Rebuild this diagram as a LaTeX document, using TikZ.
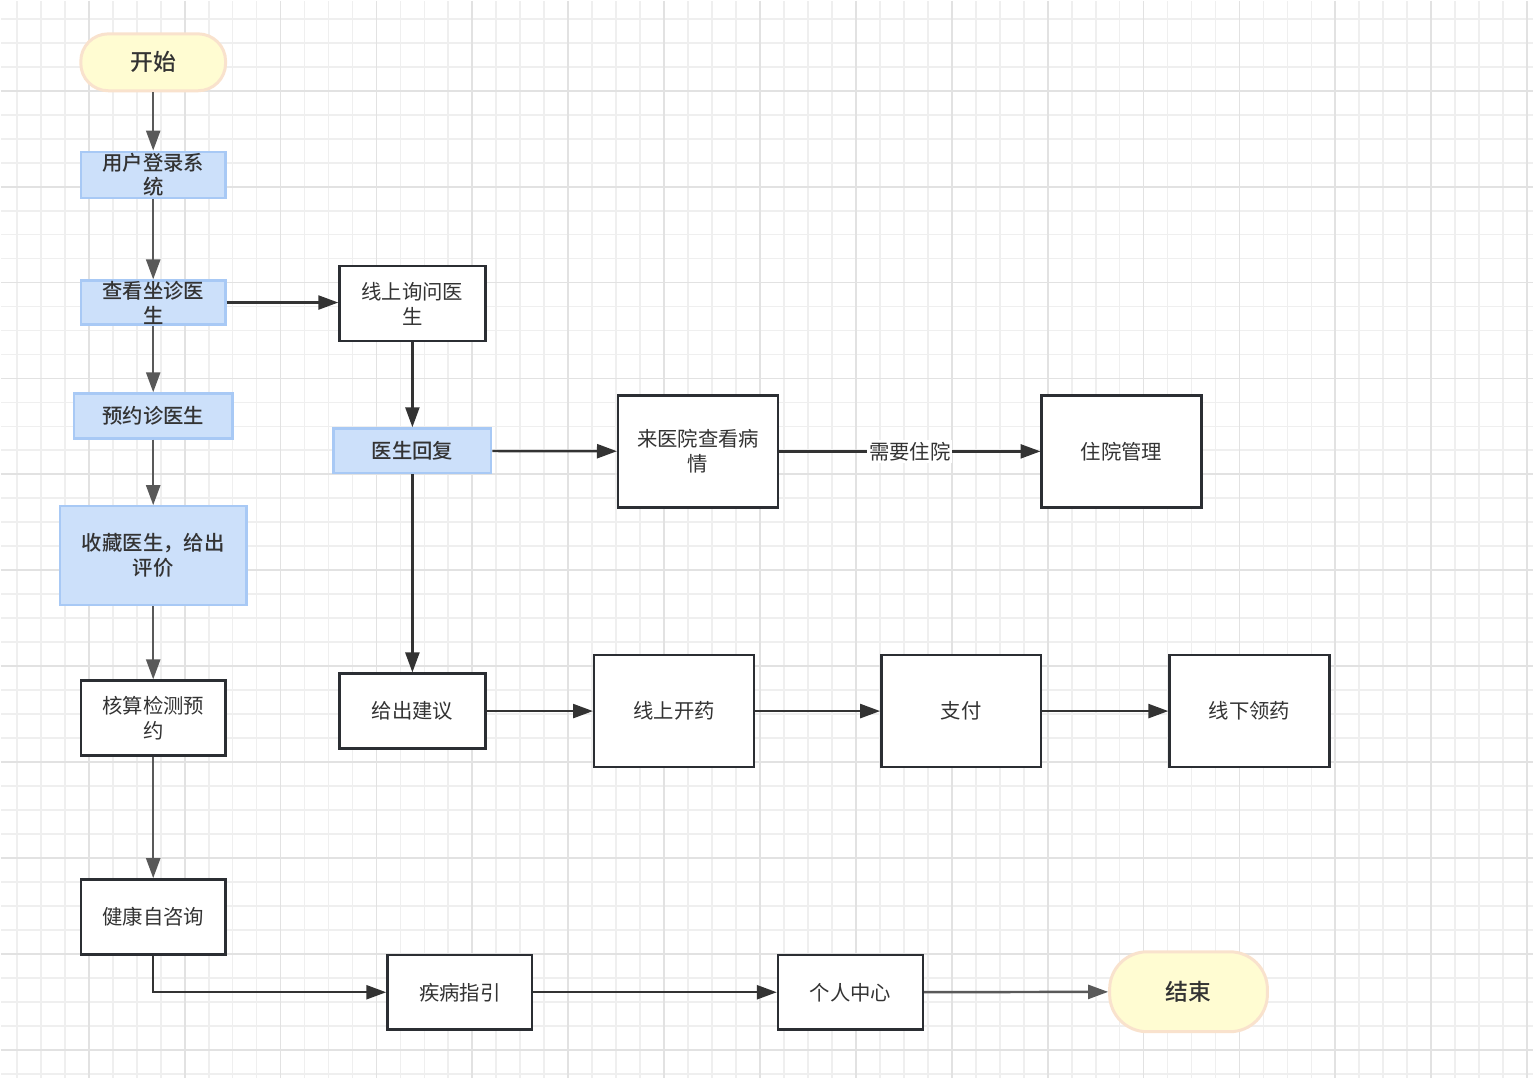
\documentclass[tikz,border=0pt]{standalone}
\usepackage{fontspec}
\setmainfont{Noto Sans CJK SC}[BoldFont={Noto Sans CJK SC Medium}]
\usepackage{xcolor}
\usetikzlibrary{arrows.meta}

\definecolor{gridminor}{HTML}{EFEFEF}
\definecolor{gridmajor}{HTML}{E2E2E2}
\definecolor{bluefill}{HTML}{CCE0FA}
\definecolor{blueline}{HTML}{A8C9F5}
\definecolor{termfill}{HTML}{FFFCD2}
\definecolor{termline}{HTML}{F9E2CD}
\definecolor{boxline}{HTML}{2B2E33}
\definecolor{txt}{HTML}{333333}
\definecolor{greyarrow}{HTML}{595959}
\definecolor{darkarrow}{HTML}{333333}

\begin{document}
\begin{tikzpicture}[x=0.02cm, y=-0.02cm,
    every node/.style={text=txt, align=center, font=\fontsize{11.6}{14.2}\selectfont},
    term/.style={draw=termline, fill=termfill, line width=1.7pt, rounded corners=0.55cm,
        minimum width=2.9cm, minimum height=1.14cm, font=\fontsize{13}{15}\selectfont\bfseries},
    bluebox/.style={draw=blueline, fill=bluefill, line width=1.3pt, inner sep=0pt,
        minimum width=2.9cm, font=\fontsize{11.6}{14.2}\selectfont\bfseries},
    plainbox/.style={draw=boxline, fill=white, line width=1.4pt, inner sep=0pt,
        minimum width=2.9cm, minimum height=1.5cm},
    bigbox/.style={plainbox, minimum width=3.2cm, minimum height=2.24cm},
    flow/.style={-{Triangle[length=0.4cm,width=0.28cm]}, line width=1.4pt, draw=darkarrow},
    greyflow/.style={flow, draw=greyarrow}]

        % Background grid
        \fill[white] (0,0) rectangle (1534,1078);
        \foreach \gx in {16,40,...,1528} \draw[gridminor, line width=1pt] (\gx,0) -- (\gx,1078);
        \foreach \gy in {18,42,...,1074} \draw[gridminor, line width=1pt] (0,\gy) -- (1534,\gy);
        \foreach \gx in {88,184,...,1528} \draw[gridmajor, line width=1pt] (\gx,0) -- (\gx,1078);
        \foreach \gy in {90,186,...,1074} \draw[gridmajor, line width=1pt] (0,\gy) -- (1534,\gy);
        \useasboundingbox (0,0) rectangle (1534,1078);

        % Left column
        \node[term] (start) at (152.5,61.5) {开始};
        \node[bluebox, minimum height=0.92cm] (login) at (152.5,174) {用户登录系\\统};
        \node[bluebox, minimum height=0.88cm] (view) at (152.5,302) {查看坐诊医\\生};
        \node[bluebox, minimum width=3.18cm, minimum height=0.9cm] (book) at (152.5,415.5) {预约诊医生};
        \node[bluebox, minimum width=3.74cm, minimum height=1.98cm] (fav) at (152.5,555.5) {收藏医生，给出\\评价};
        \node[plainbox] (check) at (152.5,718) {核算检测预\\约};
        \node[plainbox] (health) at (152.5,917) {健康自咨询};

        % Online consultation
        \node[plainbox, minimum width=2.92cm] (ask) at (412,303) {线上询问医\\生};
        \node[bluebox, minimum width=3.16cm, minimum height=0.9cm] (reply) at (412,450.5) {医生回复};
        \node[bigbox] (visit) at (698,451) {来医院查看病\\情};
        \node[bigbox] (hosp) at (1122,451) {住院管理};

        % Medicine
        \node[plainbox, minimum width=2.92cm] (advice) at (412,711) {给出建议};
        \node[bigbox] (rx) at (674,711) {线上开药};
        \node[bigbox] (pay) at (961.5,711) {支付};
        \node[bigbox] (pick) at (1250,711) {线下领药};

        % Bottom row
        \node[plainbox] (guide) at (459.5,992.5) {疾病指引};
        \node[plainbox] (me) at (850.5,992.5) {个人中心};
        \node[term, minimum width=3.16cm, minimum height=1.6cm, rounded corners=0.75cm] (end) at (1189,992) {结束};

        \draw[greyflow] (start) -- (login);
        \draw[greyflow] (login) -- (view);
        \draw[flow] (view.east) -- (view.east -| ask.west);
        \draw[greyflow] (view) -- (book);
        \draw[greyflow] (book) -- (fav);
        \draw[greyflow] (fav) -- (check);
        \draw[greyflow] (check) -- (health);
        \draw[flow] (health.south) |- (guide.west);
        \draw[flow] (guide) -- (me);
        \draw[greyflow] (me) -- (end);

        \draw[flow] (ask) -- (reply);
        \draw[flow] (reply) -- (visit);
        \draw[flow] (visit) -- (hosp) node[midway, fill=white, inner sep=1pt] {需要住院};
        \draw[flow] (reply) -- (advice);
        \draw[flow] (advice) -- (rx);
        \draw[flow] (rx) -- (pay);
        \draw[flow] (pay) -- (pick);
    \end{tikzpicture}
\end{document}
